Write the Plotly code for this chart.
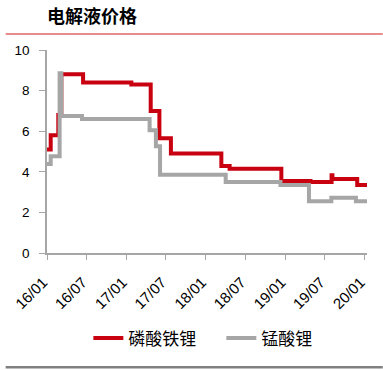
import plotly.graph_objects as go

# 磷酸铁锂 electrolyte price (step points)
lfp_dates = ["2016-01-01", "2016-01-18", "2016-02-22", "2016-03-07", "2016-06-15",
             "2017-01-23", "2017-04-22", "2017-06-01", "2017-07-24", "2018-03-13",
             "2018-04-20", "2018-12-14", "2019-04-27", "2019-08-02", "2019-08-06",
             "2019-11-28", "2020-01-12"]
lfp_values = [5.1, 5.8, 6.8, 8.8, 8.4,
              8.3, 7.0, 5.65, 4.9, 4.28,
              4.15, 3.55, 3.5, 3.83, 3.65,
              3.35, 3.35]

# 锰酸锂 electrolyte price (step points)
lmo_dates = ["2016-01-01", "2016-01-18", "2016-02-28", "2016-03-07", "2016-06-10",
             "2017-04-17", "2017-05-16", "2017-06-04", "2018-04-02", "2018-12-10",
             "2019-04-20", "2019-08-01", "2019-11-22", "2020-01-12"]
lmo_values = [4.38, 4.77, 8.85, 6.75, 6.6,
              6.05, 5.26, 3.85, 3.5, 3.35,
              2.55, 2.72, 2.55, 2.55]

tick_vals = ["2016-01-01", "2016-07-01", "2017-01-01", "2017-07-01", "2018-01-01",
             "2018-07-01", "2019-01-01", "2019-07-01", "2020-01-01"]
tick_text = ["16/01", "16/07", "17/01", "17/07", "18/01", "18/07", "19/01", "19/07", "20/01"]

fig = go.Figure()
fig.add_trace(go.Scatter(x=lfp_dates, y=lfp_values, mode="lines", line_shape="hv",
                         name="磷酸铁锂", line=dict(color="#C8000F", width=4)))
fig.add_trace(go.Scatter(x=lmo_dates, y=lmo_values, mode="lines", line_shape="hv",
                         name="锰酸锂", line=dict(color="#A6A6A6", width=4)))

axis_color = "#A6A6A6"
W, H = 383, 370
L, R, T = 42, 16, 50
plot_bottom = 252.7
B = H - plot_bottom
ph = plot_bottom - T
pw = W - L - R


def py(y_px):
    return (plot_bottom - y_px) / ph


def px(x_px):
    return (x_px - L) / pw


fig.update_layout(
    width=W, height=H,
    margin=dict(l=L, r=R, t=T, b=B, pad=0),
    paper_bgcolor="white", plot_bgcolor="white",
    font=dict(family="Liberation Sans, Arial, sans-serif", size=14, color="black"),
    title=dict(text="<b>电解液价格</b>", x=47 / W, xanchor="left", xref="container",
               y=1 - 16.5 / H, yanchor="middle", yref="container",
               font=dict(family="Noto Sans CJK SC", size=18, color="black")),
    showlegend=True,
    legend=dict(orientation="h", x=px(84), xanchor="left", y=py(338),
                yanchor="middle", font=dict(family="Noto Sans CJK SC", size=17, color="black"),
                itemwidth=30, entrywidth=88, entrywidthmode="pixels",
                bgcolor="rgba(0,0,0,0)"),
    xaxis=dict(type="date", range=["2016-01-01", "2020-01-12"], tickvals=tick_vals,
               ticktext=tick_text, tickangle=-45, showgrid=False, zeroline=False,
               showline=True, linecolor=axis_color, linewidth=1.5,
               ticks="outside", ticklen=5, tickcolor=axis_color,
               tickfont=dict(size=15), ticklabelstandoff=8, ticklabelshift=-4),
    yaxis=dict(range=[0, 10], dtick=2, showgrid=False, zeroline=False,
               showline=True, linecolor=axis_color, linewidth=1.5,
               ticks="outside", ticklen=6, tickcolor=axis_color,
               tickfont=dict(size=13.5), ticklabelstandoff=7),
    shapes=[
        dict(type="line", xref="paper", yref="paper", x0=-L / pw, x1=(W - L) / pw,
             y0=py(34), y1=py(34),
             line=dict(color="#E06666", width=1.5)),
        dict(type="line", xref="paper", yref="paper", x0=-L / pw, x1=(W - L) / pw,
             y0=py(366.7), y1=py(366.7),
             line=dict(color="#808080", width=2.5)),
    ],
)

fig.write_html("out.html", config={"displayModeBar": False},
               post_script="document.body.style.margin='0';")
